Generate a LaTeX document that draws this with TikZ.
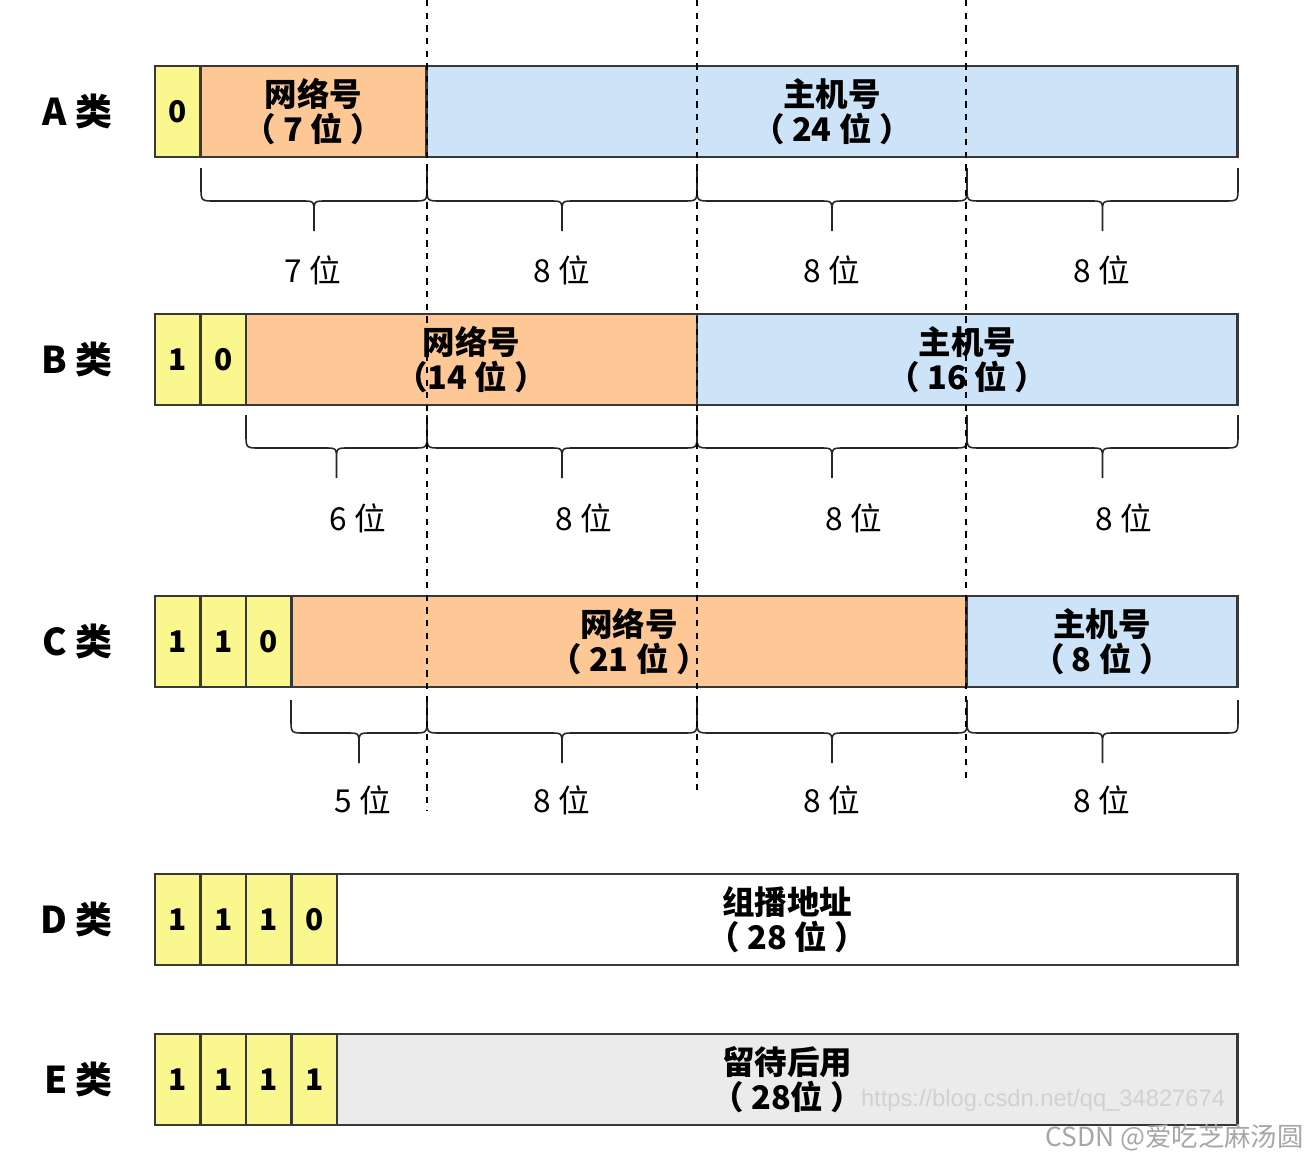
\documentclass[tikz,border=0pt]{standalone}
\usepackage{fontspec}
\setmainfont{Noto Sans CJK SC}
\newfontfamily\wmfont{Liberation Sans}
\usetikzlibrary{positioning}
\definecolor{bityellow}{HTML}{FAF78E}
\definecolor{netorange}{HTML}{FDC896}
\definecolor{hostblue}{HTML}{CCE3F8}
\definecolor{restgray}{HTML}{EBEBEB}
\definecolor{linegray}{HTML}{383838}
\newcommand\bitbrace[3]{% left, right, top (in px)
  (#1,#3) -- (#1,{#3+19}) .. controls (#1,{#3+33}) .. ({#1+14},{#3+33})
  -- ({(#1+#2)/2-12},{#3+33}) .. controls ({(#1+#2)/2},{#3+33}) .. ({(#1+#2)/2},{#3+45})
  -- ({(#1+#2)/2},{#3+63})
  ({(#1+#2)/2},{#3+45}) .. controls ({(#1+#2)/2},{#3+33}) .. ({(#1+#2)/2+12},{#3+33})
  -- ({#2-14},{#3+33}) .. controls (#2,{#3+33}) .. (#2,{#3+19}) -- (#2,#3)
}
\begin{document}
\begin{tikzpicture}[x=0.02cm,y=-0.02cm]
  \tikzset{bit/.style={draw=linegray, line width=1.5pt, fill=bityellow, minimum width=0.91cm,
      minimum height=1.82cm, inner sep=0pt, outer sep=0pt, font=\fontsize{17}{17}\selectfont\bfseries}}
  \tikzset{field/.style={draw=linegray, line width=1.5pt, minimum height=1.82cm, inner sep=0pt,
      outer sep=0pt, align=center, font=\fontsize{18.5}{20}\selectfont\bfseries}}
  \tikzset{rowlabel/.style={inner sep=0pt, font=\fontsize{21}{21}\selectfont\bfseries}}
  \tikzset{bitcount/.style={font=\fontsize{18}{18}\selectfont}}
  \tikzset{guide/.style={draw=black, line width=0.9pt, dash pattern=on 3.6pt off 3.6pt}}
  \tikzset{brace/.style={draw=black!85, line width=0.9pt}}

  \useasboundingbox (0,0) rectangle (1310,1160);

  % A
  \node[bit, anchor=west] (a0) at (155,111.5) {0};
  \node[field, fill=netorange, minimum width=4.52cm, right=0pt of a0] (anet) {网络号\\（ 7 位 ）};
  \node[field, fill=hostblue, minimum width=16.22cm, right=0pt of anet] (ahost) {主机号\\（ 24 位 ）};
  \node[rowlabel, left=0.84cm of a0] (alabel) {A 类};

  % B
  \node[bit, anchor=west] (b0) at (155,359.5) {1};
  \node[bit, right=0pt of b0] (b1) {0};
  \node[field, fill=netorange, minimum width=9.02cm, right=0pt of b1] (bnet) {网络号\\（14 位 ）};
  \node[field, fill=hostblue, minimum width=10.82cm, right=0pt of bnet] (bhost) {主机号\\（ 16 位 ）};
  \node[rowlabel, left=0.84cm of b0] (blabel) {B 类};

  % C
  \node[bit, anchor=west] (c0) at (155,641.5) {1};
  \node[bit, right=0pt of c0] (c1) {1};
  \node[bit, right=0pt of c1] (c2) {0};
  \node[field, fill=netorange, minimum width=13.5cm, right=0pt of c2] (cnet) {网络号\\（ 21 位 ）};
  \node[field, fill=hostblue, minimum width=5.42cm, right=0pt of cnet] (chost) {主机号\\（ 8 位 ）};
  \node[rowlabel, left=0.84cm of c0] (clabel) {C 类};

  % D
  \node[bit, anchor=west] (d0) at (155,919.5) {1};
  \node[bit, right=0pt of d0] (d1) {1};
  \node[bit, right=0pt of d1] (d2) {1};
  \node[bit, right=0pt of d2] (d3) {0};
  \node[field, fill=white, minimum width=18.02cm, right=0pt of d3] (dmcast) {组播地址\\（ 28 位 ）};
  \node[rowlabel, left=0.84cm of d0] (dlabel) {D 类};

  % E
  \node[bit, anchor=west] (e0) at (155,1079.5) {1};
  \node[bit, right=0pt of e0] (e1) {1};
  \node[bit, right=0pt of e1] (e2) {1};
  \node[bit, right=0pt of e2] (e3) {1};
  \node[field, fill=restgray, minimum width=18.02cm, right=0pt of e3] (ereserved) {留待后用\\（ 28位 ）};
  \node[rowlabel, left=0.84cm of e0] (elabel) {E 类};

  % braces
  \draw[brace] \bitbrace{201}{427}{168} \bitbrace{427}{697}{168} \bitbrace{697}{967}{168} \bitbrace{967}{1238}{168};
  \draw[brace] \bitbrace{246}{427}{415} \bitbrace{427}{697}{415} \bitbrace{697}{967}{415} \bitbrace{967}{1238}{415};
  \draw[brace] \bitbrace{291}{427}{700} \bitbrace{427}{697}{700} \bitbrace{697}{967}{700} \bitbrace{967}{1238}{700};

  \node[bitcount] (acount1) at (313,270) {7 位};
  \node[bitcount] (acount2) at (562,270) {8 位};
  \node[bitcount] (acount3) at (832,270) {8 位};
  \node[bitcount] (acount4) at (1102,270) {8 位};

  \node[bitcount] (bcount1) at (358,518) {6 位};
  \node[bitcount] (bcount2) at (584,518) {8 位};
  \node[bitcount] (bcount3) at (854,518) {8 位};
  \node[bitcount] (bcount4) at (1124,518) {8 位};

  \node[bitcount] (ccount1) at (363,800) {5 位};
  \node[bitcount] (ccount2) at (562,800) {8 位};
  \node[bitcount] (ccount3) at (832,800) {8 位};
  \node[bitcount] (ccount4) at (1102,800) {8 位};

  % byte boundaries
  \foreach \x/\y in {427/810, 697/790, 966/778}
    \draw[guide] (\x,0) -- (\x,\y);

  % watermark
  \node[font=\wmfont\fontsize{13.5}{14}\selectfont, text=black!18] (wmurl) at (1043,1100) {https://blog.csdn.net/qq\_34827674};
  \node[font=\fontsize{15}{15}\selectfont, text=black!35, anchor=east, inner sep=0pt] (wmname) at (1304,1138) {CSDN @爱吃芝麻汤圆};
\end{tikzpicture}
\end{document}
